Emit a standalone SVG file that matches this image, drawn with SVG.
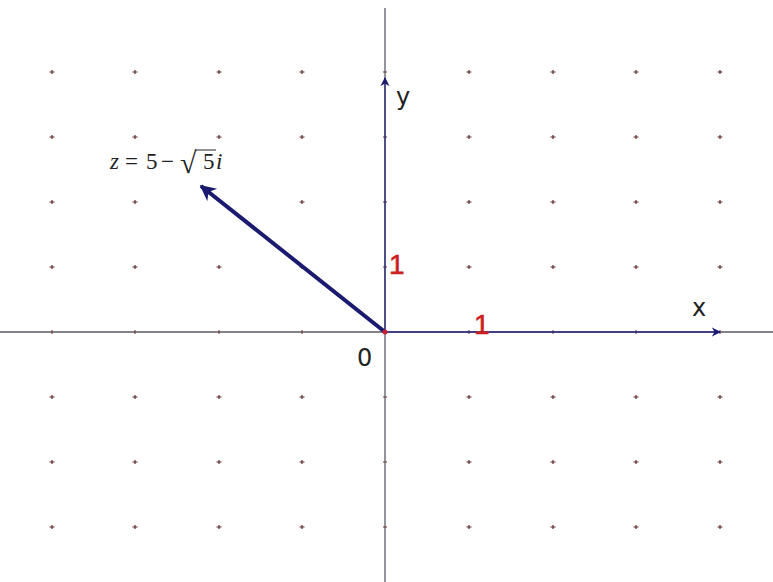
<svg xmlns="http://www.w3.org/2000/svg" width="773" height="582" viewBox="0 0 773 582">
<defs>
<style>
.axis{stroke:#5a5a66;stroke-width:1.3;fill:none}
.unit{stroke:#2a2a80;stroke-width:1.3;fill:none}
.dot{stroke:#5a2a2a;stroke-width:1.2;fill:none}
.tick{stroke:#6a3030;stroke-width:1;fill:none}
.lbl{font-family:"DejaVu Sans","Liberation Sans",sans-serif;font-size:24px;fill:#222}
.red{font-family:"Liberation Sans",Arial,sans-serif;font-size:28px;fill:#cc2020;stroke:#cc2020;stroke-width:0.6}
.math{font-family:"Liberation Serif","Times New Roman",serif;font-size:23px;fill:#222}
</style>
<marker id="ah" viewBox="0 0 10 10" refX="9" refY="5" markerWidth="18" markerHeight="16" markerUnits="userSpaceOnUse" orient="auto">
<path d="M0,0 L10,5 L0,10 L3,5 Z" fill="#1a1a70"/>
</marker>
<marker id="vh" viewBox="0 0 10 10" refX="9" refY="5" markerWidth="7" markerHeight="7" orient="auto">
<path d="M0,0 L10,5 L0,10 L3,5 Z" fill="#1a1a70"/>
</marker>
<g id="gd"><path class="dot" d="M-2.5,0 H2.5 M0,-2 V2"/></g>
</defs>
<rect width="773" height="582" fill="#fff"/>
<g id="grid">
<use href="#gd" x="52" y="72"/><use href="#gd" x="135" y="72"/><use href="#gd" x="219" y="72"/><use href="#gd" x="302" y="72"/><use href="#gd" x="469" y="72"/><use href="#gd" x="553" y="72"/><use href="#gd" x="636" y="72"/><use href="#gd" x="720" y="72"/>
<use href="#gd" x="52" y="137"/><use href="#gd" x="135" y="137"/><use href="#gd" x="219" y="137"/><use href="#gd" x="302" y="137"/><use href="#gd" x="469" y="137"/><use href="#gd" x="553" y="137"/><use href="#gd" x="636" y="137"/><use href="#gd" x="720" y="137"/>
<use href="#gd" x="52" y="202"/><use href="#gd" x="135" y="202"/><use href="#gd" x="302" y="202"/><use href="#gd" x="469" y="202"/><use href="#gd" x="553" y="202"/><use href="#gd" x="636" y="202"/><use href="#gd" x="720" y="202"/>
<use href="#gd" x="52" y="267"/><use href="#gd" x="135" y="267"/><use href="#gd" x="219" y="267"/><use href="#gd" x="302" y="267"/><use href="#gd" x="469" y="267"/><use href="#gd" x="553" y="267"/><use href="#gd" x="636" y="267"/><use href="#gd" x="720" y="267"/>
<use href="#gd" x="52" y="397"/><use href="#gd" x="135" y="397"/><use href="#gd" x="219" y="397"/><use href="#gd" x="302" y="397"/><use href="#gd" x="469" y="397"/><use href="#gd" x="553" y="397"/><use href="#gd" x="636" y="397"/><use href="#gd" x="720" y="397"/>
<use href="#gd" x="52" y="462"/><use href="#gd" x="135" y="462"/><use href="#gd" x="219" y="462"/><use href="#gd" x="302" y="462"/><use href="#gd" x="469" y="462"/><use href="#gd" x="553" y="462"/><use href="#gd" x="636" y="462"/><use href="#gd" x="720" y="462"/>
<use href="#gd" x="52" y="527"/><use href="#gd" x="135" y="527"/><use href="#gd" x="219" y="527"/><use href="#gd" x="302" y="527"/><use href="#gd" x="469" y="527"/><use href="#gd" x="553" y="527"/><use href="#gd" x="636" y="527"/><use href="#gd" x="720" y="527"/>
</g>
<g id="connectors">
<line class="axis" x1="0" y1="332" x2="773" y2="332"/>
<line class="axis" x1="385" y1="8" x2="385" y2="582"/>
<path class="tick" d="M52,330V334 M135,330V334 M219,330V334 M302,330V334 M469,330V334 M553,330V334 M636,330V334 M720,330V334 M383,72H387 M383,137H387 M383,202H387 M383,267H387 M383,397H387 M383,462H387 M383,527H387"/>
<line class="unit" x1="385" y1="332" x2="720" y2="332" marker-end="url(#vh)"/>
<line class="unit" x1="385" y1="332" x2="385" y2="78" marker-end="url(#vh)"/>
<line x1="385" y1="332" x2="201" y2="186" stroke="#1a1a70" stroke-width="4" marker-end="url(#ah)"/>
<circle cx="385" cy="332" r="2.5" fill="#cc2030"/>
</g>
<g id="labels">
<text class="lbl" x="692" y="316">x</text>
<text class="lbl" x="396" y="105">y</text>
<text class="lbl" x="357" y="366">0</text>
<text class="red" x="389" y="274">1</text>
<text class="red" x="474" y="334">1</text>
<text class="math"><tspan x="110" y="169" font-style="italic">z</tspan><tspan x="125" y="169">=</tspan><tspan x="146" y="169">5</tspan><tspan x="161" y="169">−</tspan><tspan x="180" y="173" font-size="30">√</tspan><tspan x="203" y="169">5</tspan><tspan x="216" y="169" font-style="italic">i</tspan></text>
<line x1="195" y1="150" x2="216" y2="150" stroke="#222" stroke-width="1"/>
</g>
</svg>
